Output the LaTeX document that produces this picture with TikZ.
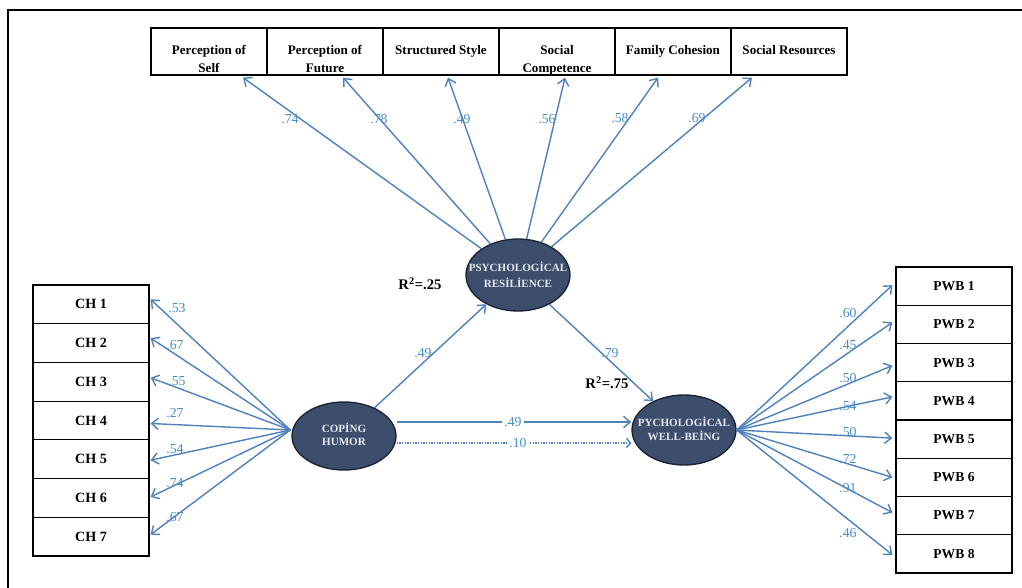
\documentclass[tikz,border=0pt]{standalone}
\usepackage{fontspec}
\setmainfont{Liberation Serif}
\usetikzlibrary{arrows.meta,shapes.geometric,calc,shadows}
\definecolor{arrowc}{RGB}{79,129,189}
\definecolor{labc}{RGB}{70,140,200}
\definecolor{ellfill}{RGB}{60,78,108}
\definecolor{elldraw}{RGB}{25,35,50}
\definecolor{elltext}{RGB}{228,232,240}
\begin{document}
\begin{tikzpicture}[x=0.75pt,y=-0.75pt,
  boxbase/.style={rectangle,draw=black,line width=0.9pt,fill=white,inner sep=0pt,
    minimum width=87pt,
    drop shadow={shadow xshift=0.9pt,shadow yshift=-0.9pt,opacity=0.3},
    font=\fontsize{9.8}{13}\selectfont\bfseries},
  tbox/.style={boxbase,minimum height=35.25pt},
  chbox/.style={boxbase,minimum height=29.03pt,font=\fontsize{10.6}{13}\selectfont\bfseries},
  pbox/.style={boxbase,minimum height=28.69pt,font=\fontsize{10.2}{13}\selectfont\bfseries},
  tlab/.style={label={[anchor=north,yshift=-13.5pt,inner sep=0pt,align=center,
    font=\fontsize{9.8}{13}\selectfont\bfseries]north:#1}},
  latent/.style={ellipse,draw=elldraw,line width=1pt,fill=ellfill,inner sep=0pt,
    minimum width=78pt},
  ltext/.style={label={[anchor=center,inner sep=0pt,text=elltext,align=center,
    font=\fontsize{8.3}{11}\selectfont\bfseries]center:#1}},
  arr/.style={draw=arrowc,line width=1.05pt,-{Straight Barb[length=5pt,width=8.5pt]}},
  arrdot/.style={draw=arrowc,line width=1pt,dash pattern=on 1pt off 1pt,
    -{Straight Barb[length=3pt,width=7pt]}},
  coef/.style={text=labc,font=\fontsize{10.3}{12}\selectfont,inner sep=0.5pt},
  coefw/.style={coef,fill=white,inner sep=1.5pt},
  rsq/.style={font=\fontsize{11}{13}\selectfont\bfseries,inner sep=0pt}
]
\useasboundingbox (0,0) rectangle (1022,588);
\fill[white] (0,0) rectangle (1022,588);
% outer frame (top and left only)
\draw[line width=2pt] (8,588) -- (8,10) -- (1022,10);

% top indicator boxes
\node[tbox,tlab={Perception of\\Self}] (t1) at (209,51.5) {};
\node[tbox,tlab={Perception of\\Future}] (t2) at (325,51.5) {};
\node[tbox,tlab={Structured Style}] (t3) at (441,51.5) {};
\node[tbox,tlab={Social\\Competence}] (t4) at (557,51.5) {};
\node[tbox,tlab={Family Cohesion}] (t5) at (673,51.5) {};
\node[tbox,tlab={Social Resources}] (t6) at (789,51.5) {};

% CH boxes
\foreach \i in {1,...,7}
  \node[chbox] (ch\i) at (91,{285+38.71*(\i-0.5)}) {CH \i};
% PWB boxes
\foreach \i in {1,...,8}
  \node[pbox] (p\i) at (954,{267+38.25*(\i-0.5)}) {PWB \i};

% latent variables
\node[latent,minimum height=54pt,
  ltext={\raisebox{-3pt}{\shortstack{PSYCHOLOG\.{I}CAL\\[1.5pt]RES\.{I}L\.{I}ENCE}}}] (res) at (518,275) {};
\node[latent,minimum height=51pt,
  ltext={\raisebox{3pt}{\shortstack{COP\.{I}NG\\[1.5pt]HUMOR}}}] (cop) at (344,436) {};
\node[latent,minimum height=52.5pt,
  ltext={\raisebox{2pt}{\shortstack{PYCHOLOG\.{I}CAL\\[0.5pt]WELL-BE\.{I}NG}}}] (wb) at (684,430) {};

% resilience -> top indicators
\draw[arr] (res) -- ($(t1.south)+(34,2)$);
\draw[arr] (res) -- ($(t2.south)+(18,2)$);
\draw[arr] (res) -- ($(t3.south)+(7,2)$);
\draw[arr] (res) -- ($(t4.south)+(8,2)$);
\draw[arr] (res) -- ($(t5.south)+(-15,2)$);
\draw[arr] (res) -- ($(t6.south)+(-37,2)$);
\node[coef] (l1) at (290,119) {.74};
\node[coef] (l2) at (379,119) {.78};
\node[coef] (l3) at (462,119) {.49};
\node[coef] (l4) at (547,119) {.56};
\node[coef] (l5) at (620,118) {.58};
\node[coef] (l6) at (697,118) {.69};

% coping humor -> CH items
\coordinate (chsrc) at ($(cop.west)+(-1,-6)$);
\foreach \i/\dy in {1/-5,2/-5,3/-4,4/3,5/1,6/-1,7/-2}
  \draw[arr] (chsrc) -- ($(ch\i.east)+(1,\dy)$);
\node[coef] (c1) at (177,308) {.53};
\node[coef] (c2) at (175,345) {.67};
\node[coef] (c3) at (177,381) {.55};
\node[coef] (c4) at (175,413) {.27};
\node[coef] (c5) at (175,449) {.54};
\node[coef] (c6) at (175,483) {.74};
\node[coef] (c7) at (175,517) {.67};

% well-being -> PWB items
\foreach \i/\dy in {1/-1,2/-2,3/3,4/-4,5/-1,6/0,7/-3,8/1}
  \draw[arr] (wb.east) -- ($(p\i.west)+(-3,\dy)$);
\node[coef] (w1) at (848,313) {.60};
\node[coef] (w2) at (848,345) {.45};
\node[coef] (w3) at (848,378) {.50};
\node[coef] (w4) at (848,406) {.54};
\node[coef] (w5) at (848,432) {.50};
\node[coef] (w6) at (848,459) {.72};
\node[coef] (w7) at (848,488) {.91};
\node[coef] (w8) at (848,533) {.46};

% structural paths
\draw[arr] (cop) -- (res);
\node[coef] (s1) at (423,353) {.49};
\draw[arr] (res) -- (wb);
\node[coef] (s2) at (610,353) {.79};
\draw[arr] ($(cop.east)+(0,-14)$) -- ($(wb.west)+(0,-8)$);
\node[coefw] (s3) at (513,422) {.49};
\draw[arrdot] ($(cop.east)+(0,7)$) -- ($(wb.west)+(0,13)$);
\node[coefw] (s4) at (518,443) {.10};

% R squared
\node[rsq] (r1) at (420,284) {R\textsuperscript{2}=.25};
\node[rsq] (r2) at (607,383) {R\textsuperscript{2}=.75};
\end{tikzpicture}
\end{document}
